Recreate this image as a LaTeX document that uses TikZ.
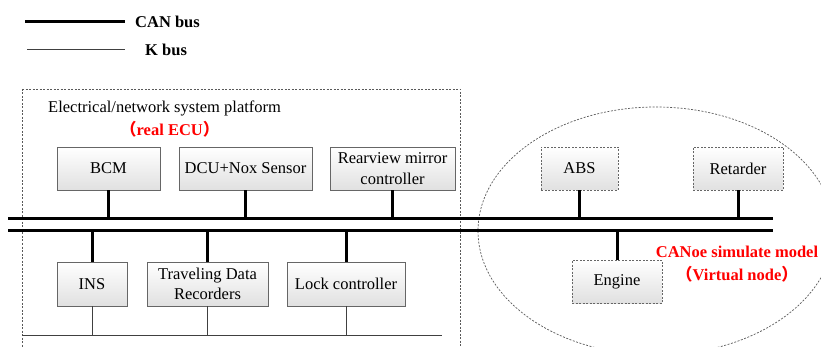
\documentclass[tikz,border=0pt]{standalone}
\usepackage{fontspec}
\setmainfont{Liberation Serif}
\newfontfamily\cjk{Noto Sans CJK SC}
\begin{document}
\begin{tikzpicture}[x=1pt,y=-1pt,
  every node/.style={font=\fontsize{16.5}{20.5}\selectfont},
  canline/.style={line width=3pt},
  kline/.style={line width=1pt, black!75},
  ecubox/.style={draw=black!60, line width=0.8pt, top color=white, bottom color=black!12,
    inner sep=0pt, align=center},
  virtbox/.style={ecubox, dashed, dash pattern=on 2pt off 1.5pt},
  lbl/.style={font=\fontsize{16.5}{20.5}\selectfont\bfseries},
  redlbl/.style={font=\fontsize{16.5}{20.5}\selectfont\bfseries, text=red},
  region/.style={draw=black!65, line width=0.7pt, dash pattern=on 2pt off 1.5pt}
]
\useasboundingbox (0,0) rectangle (821,347);
\clip (0,0) rectangle (821,347);

% legend
\coordinate (lgA1) at (25,22);  \coordinate (lgA2) at (125,22);
\coordinate (lgB1) at (27,50);  \coordinate (lgB2) at (125,50);
\draw[canline] (lgA1) -- (lgA2);
\draw[kline] (lgB1) -- (lgB2);
\node[lbl, anchor=west, inner sep=0pt] (lgcan) at (135,22) {CAN bus};
\node[lbl, anchor=west, inner sep=0pt] (lgk) at (145,50) {K bus};

% real ECU platform
\draw[region] (22,89) -- (460,89) -- (460,360) (22,89) -- (22,360);
\node[anchor=west, inner sep=0pt] (plat) at (48,108) {Electrical/network system platform};
\node[redlbl, anchor=west, inner sep=0pt] (real) at (120,129) {{\cjk（}real ECU{\cjk）}};

% simulated nodes region
\draw[region] (656,231) ellipse [x radius=178, y radius=124];
\node[redlbl, inner sep=0pt] (sim1) at (737,252) {CANoe simulate model};
\node[redlbl, inner sep=0pt] (sim2) at (737,274) {{\cjk（}Virtual node{\cjk）}};

% buses
\coordinate (can1w) at (8,219);  \coordinate (can1e) at (773,219);
\coordinate (can2w) at (8,231);  \coordinate (can2e) at (773,231);
\coordinate (kw) at (22,335);    \coordinate (ke) at (442,335);
\draw[canline] (can1w) -- (can1e);
\draw[canline] (can2w) -- (can2e);
\draw[kline] (kw) -- (ke);

% ECUs above the buses
\node[ecubox, minimum width=103, minimum height=43] (bcm) at (108.5,168.5) {BCM};
\node[ecubox, minimum width=133, minimum height=43] (dcu) at (245.5,168.5) {DCU+Nox Sensor};
\node[ecubox, minimum width=125, minimum height=43] (mirror) at (392.5,168.5) {Rearview mirror\\controller};
\node[virtbox, minimum width=77, minimum height=43] (abs) at (579.5,168.5) {ABS};
\node[virtbox, minimum width=90, minimum height=43] (ret) at (738,168.5) {Retarder};

% ECUs below the buses
\node[ecubox, minimum width=70, minimum height=44] (ins) at (92,284) {INS};
\node[ecubox, minimum width=121, minimum height=44] (tdr) at (207.5,284) {Traveling Data\\Recorders};
\node[ecubox, minimum width=118, minimum height=44] (lock) at (346,284) {Lock controller};
\node[virtbox, minimum width=90, minimum height=43] (eng) at (617,281.5) {Engine};

% CAN connections
\foreach \n in {bcm,dcu,mirror,abs,ret}
  \draw[canline] (\n.south) -- (\n.south |- can1w);
\foreach \n in {ins,tdr,lock,eng}
  \draw[canline] (\n.north) -- (\n.north |- can2w);

% K line connections
\foreach \n in {ins,tdr,lock}
  \draw[kline] (\n.south) -- (\n.south |- kw);
\end{tikzpicture}
\end{document}
